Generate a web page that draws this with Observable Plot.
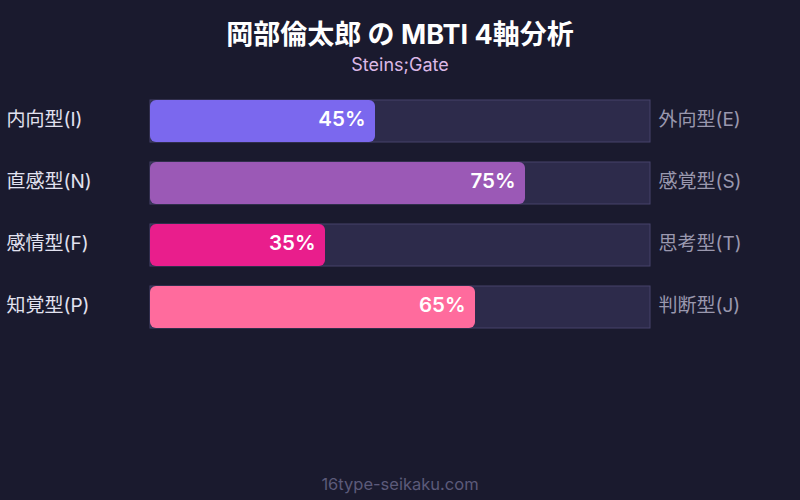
<!DOCTYPE html>
<html>
<head>
<meta charset="utf-8">
<script src="https://cdn.jsdelivr.net/npm/d3@7"></script>
<script src="https://cdn.jsdelivr.net/npm/@observablehq/plot@0.6"></script>
<style>
  html, body { margin: 0; padding: 0; background: #1a1a2e; width: 800px; height: 500px; overflow: hidden; }
  body { font-family: Inter, "Noto Sans CJK JP", sans-serif; position: relative; }
  #title { position: absolute; top: 16px; left: 0; width: 800px; text-align: center; color: #ffffff; font-size: 27px; font-weight: 700; line-height: 38px; }
  #subtitle { position: absolute; top: 53px; left: 0; width: 800px; text-align: center; color: #dcb8e6; font-size: 18px; line-height: 24px; }
  #chart { position: absolute; top: 90px; left: 0; }
  #footer { position: absolute; top: 472px; left: 0; width: 800px; text-align: center; color: #5c5a7a; font-size: 16.5px; line-height: 24px; }
</style>
</head>
<body>
<div id="title">岡部倫太郎 の MBTI 4軸分析</div>
<div id="subtitle">Steins;Gate</div>
<div id="chart"></div>
<div id="footer">16type-seikaku.com</div>
<script>
const leftLabels = ["内向型(I)", "直感型(N)", "感情型(F)", "知覚型(P)"];
const rightLabels = ["外向型(E)", "感覚型(S)", "思考型(T)", "判断型(J)"];
const values = [45, 75, 35, 65];
const colors = ["#7b68ee", "#9b59b6", "#e91e8c", "#ff6b9d"];

const rows = leftLabels.map((l, i) => ({ left: l, right: rightLabels[i], value: values[i], color: colors[i] }));

const chart = Plot.plot({
  width: 800,
  height: 370,
  marginLeft: 150,
  marginRight: 150,
  marginTop: 10,
  marginBottom: 132,
  style: { background: "transparent", fontFamily: "Inter, 'Noto Sans CJK JP', sans-serif", overflow: "visible" },
  x: { domain: [0, 100], axis: null },
  y: { domain: leftLabels, axis: null, paddingInner: 20 / 62, paddingOuter: 0 },
  marks: [
    Plot.barX(rows, { x1: 0, x2: 100, y: "left", fill: "#2d2b4b", stroke: "#46436b", strokeWidth: 1 }),
    Plot.barX(rows, { x1: 0, x2: "value", y: "left", fill: "color", rx: 6 }),
    Plot.text(rows, { x: "value", y: "left", text: d => d.value + "%", textAnchor: "end", dx: -10, dy: -2, fill: "#ffffff", fontSize: 20.5, fontWeight: 600 }),
    Plot.text(rows, { y: "left", text: "left", frameAnchor: "left", dx: -144, dy: -2, textAnchor: "start", fill: "#e2e2f0", fontSize: 19 }),
    Plot.text(rows, { y: "left", text: "right", frameAnchor: "right", dx: 8, dy: -2, textAnchor: "start", fill: "#9a98ae", fontSize: 19 })
  ]
});
document.getElementById("chart").appendChild(chart);
</script>
</body>
</html>
